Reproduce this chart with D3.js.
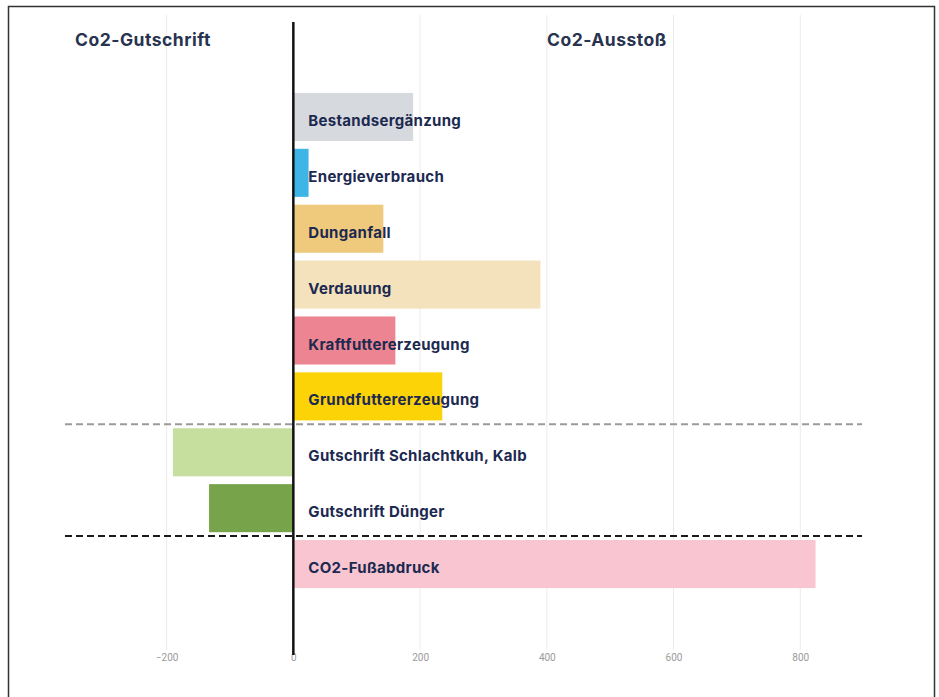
<!DOCTYPE html>
<meta charset="utf-8">
<style>
body { margin: 0; background: #fff; }
.grid line { stroke: #ececec; stroke-width: 1px; }
.tick text { fill: #9a9a9a; font-family: "Liberation Sans Narrow", "Roboto", sans-serif; font-size: 10px; }
.label { font-family: "Inter", sans-serif; font-weight: 700; font-size: 15px; letter-spacing: 0.3px; fill: #1c2950; }
.head { font-family: "Inter", sans-serif; font-weight: 700; font-size: 17.5px; letter-spacing: 0.5px; fill: #283350; }
</style>
<svg width="939" height="697"></svg>
<script src="https://cdn.jsdelivr.net/npm/d3@7"></script>
<script>

var categories = ["Bestandsergänzung", "Energieverbrauch", "Dunganfall", "Verdauung",
                  "Kraftfuttererzeugung", "Grundfuttererzeugung",
                  "Gutschrift Schlachtkuh, Kalb", "Gutschrift Dünger", "CO2-Fußabdruck"];
var values = [189, 24, 142, 390, 161, 235, -190, -133, 824];
var colors = ["#d6d9de", "#3db5e6", "#efc97c", "#f4e2bd", "#ec8591", "#fcd307",
              "#c6df9f", "#77a34a", "#f8c5d0"];
var tickValues = [-200, 0, 200, 400, 600, 800];
var headers = ["Co2-Gutschrift", "Co2-Ausstoß"];

var svg = d3.select("svg");

// Rahmen
svg.append("rect")
    .attr("x", 8.5).attr("y", 6.5)
    .attr("width", 926).attr("height", 720)
    .attr("fill", "none")
    .attr("stroke", "#333")
    .attr("stroke-width", 1.5);

var x = d3.scaleLinear().domain([-200, 800]).range([166.6, 800.3]);
var y = d3.scaleBand().domain(categories).range([89, 592])
    .paddingInner(0.14).paddingOuter(0.07);

// Gitternetz
svg.append("g").attr("class", "grid")
  .selectAll("line")
  .data(tickValues.filter(function(d) { return d !== 0; }))
  .enter().append("line")
    .attr("x1", function(d) { return x(d); })
    .attr("x2", function(d) { return x(d); })
    .attr("y1", 15).attr("y2", 650);

// Achse unten
var axis = svg.append("g")
    .attr("transform", "translate(0,650)")
    .call(d3.axisBottom(x).tickValues(tickValues).tickSize(0).tickPadding(4));
axis.select(".domain").remove();

// Balken
svg.append("g")
  .selectAll("rect")
  .data(categories)
  .enter().append("rect")
    .attr("x", function(d, i) { return x(Math.min(0, values[i])); })
    .attr("y", function(d) { return y(d); })
    .attr("width", function(d, i) { return Math.abs(x(values[i]) - x(0)); })
    .attr("height", y.bandwidth())
    .attr("fill", function(d, i) { return colors[i]; });

// Trennlinien
var step = y.step();
svg.append("line")
    .attr("x1", 65).attr("x2", 862)
    .attr("y1", y(categories[6]) - step * 0.07).attr("y2", y(categories[6]) - step * 0.07)
    .attr("stroke", "#9a9a9a").attr("stroke-width", 2)
    .attr("stroke-dasharray", "7,4");
svg.append("line")
    .attr("x1", 65).attr("x2", 862)
    .attr("y1", y(categories[8]) - step * 0.07).attr("y2", y(categories[8]) - step * 0.07)
    .attr("stroke", "#1a1a1a").attr("stroke-width", 2)
    .attr("stroke-dasharray", "7,4");

// Nulllinie
svg.append("line")
    .attr("x1", x(0)).attr("x2", x(0))
    .attr("y1", 22).attr("y2", 655)
    .attr("stroke", "#111").attr("stroke-width", 2.5);

// Beschriftungen
svg.append("g")
  .selectAll("text")
  .data(categories)
  .enter().append("text")
    .attr("class", "label")
    .attr("x", x(0) + 15)
    .attr("y", function(d) { return y(d) + y.bandwidth() / 2 + 9; })
    .text(function(d) { return d; });

svg.append("text").attr("class", "head")
    .attr("x", 75).attr("y", 46).text(headers[0]);
svg.append("text").attr("class", "head")
    .attr("x", 547).attr("y", 46).text(headers[1]);

</script>
